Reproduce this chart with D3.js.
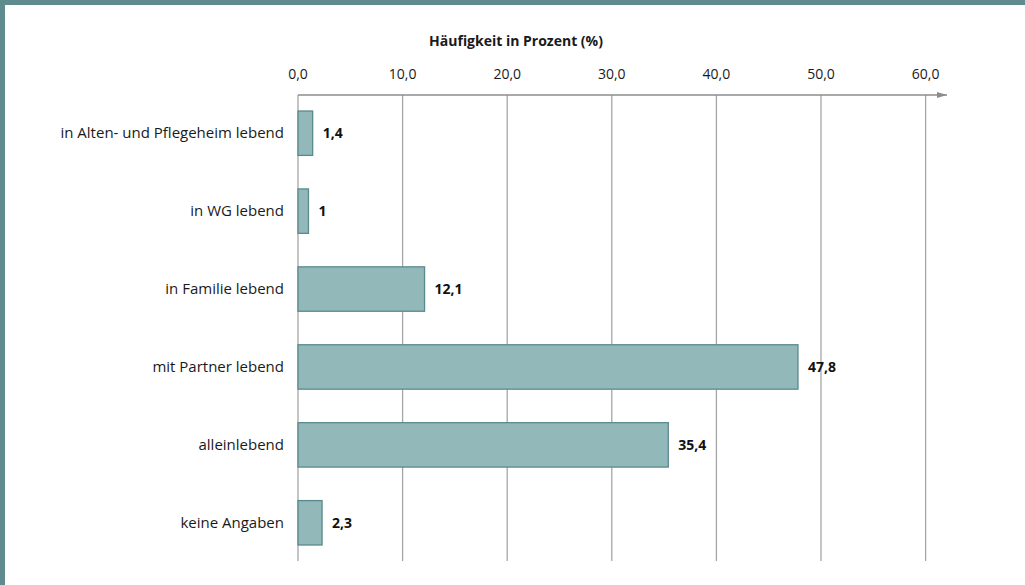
<!DOCTYPE html>
<html>
<head>
<meta charset="utf-8">
<script src="https://cdn.jsdelivr.net/npm/d3@7"></script>
<style>
  html, body { margin: 0; padding: 0; background: #fff; }
  svg { display: block; font-family: "Open Sans", sans-serif; }
</style>
</head>
<body>
<script>
// Categories and values (percent)
const categories = [
    "in Alten- und Pflegeheim lebend",
    "in WG lebend",
    "in Familie lebend",
    "mit Partner lebend",
    "alleinlebend",
    "keine Angaben"
];
const values = [1.4, 1, 12.1, 47.8, 35.4, 2.3];
const tickValues = [0, 10, 20, 30, 40, 50, 60];
const axisTitle = "Häufigkeit in Prozent (%)";

const width = 1025;
const height = 585;

const svg = d3.select('body')
    .append('svg')
        .attr('width', width)
        .attr('height', height);

// teal frame on top and left
svg.append('rect').attr('x', 0).attr('y', 0).attr('width', width).attr('height', 5).attr('fill', '#5f8b8f');
svg.append('rect').attr('x', 0).attr('y', 0).attr('width', 5).attr('height', height).attr('fill', '#5f8b8f');

// scales
const xScale = d3.scaleLinear()
    .domain([0, 60])
    .range([298, 925.6]);

const yScale = d3.scaleBand()
    .domain(categories)
    .range([111, 545])
    .paddingInner(0.43)
    .paddingOuter(0);

const axisY = 95;
const gridBottom = 561;

// vertical gridlines
svg.append('g')
    .selectAll('line')
    .data(tickValues)
    .enter()
        .append('line')
            .attr('x1', d => xScale(d))
            .attr('x2', d => xScale(d))
            .attr('y1', axisY)
            .attr('y2', gridBottom)
            .attr('stroke', '#a6a6a6')
            .attr('stroke-width', 1.3);

// top axis with arrow
svg.append('defs').append('marker')
    .attr('id', 'arrow')
    .attr('viewBox', '0 0 10 6')
    .attr('refX', 10).attr('refY', 3)
    .attr('markerWidth', 10).attr('markerHeight', 6)
    .attr('markerUnits', 'userSpaceOnUse')
    .attr('orient', 'auto')
    .append('path')
        .attr('d', 'M0,0 L10,3 L0,6 Z')
        .attr('fill', '#8c8c8c');

svg.append('line')
    .attr('x1', xScale(0))
    .attr('x2', 947)
    .attr('y1', axisY)
    .attr('y2', axisY)
    .attr('stroke', '#8c8c8c')
    .attr('stroke-width', 1.5)
    .attr('marker-end', 'url(#arrow)');

// tick labels
svg.append('g')
    .selectAll('text')
    .data(tickValues)
    .enter()
        .append('text')
            .attr('x', d => xScale(d))
            .attr('y', 79)
            .attr('text-anchor', 'middle')
            .style('font-size', '14px')
            .style('fill', '#1a1a1a')
            .text(d => d3.format('.1f')(d).replace('.', ','));

// axis title
svg.append('text')
    .attr('x', 516)
    .attr('y', 46)
    .attr('text-anchor', 'middle')
    .style('font-size', '14px')
    .style('font-weight', 'bold')
    .style('fill', '#1a1a1a')
    .text(axisTitle);

// bars
const data = categories.map((c, i) => ({ category: c, value: values[i] }));

svg.append('g')
    .selectAll('rect')
    .data(data)
    .enter()
        .append('rect')
            .attr('x', xScale(0))
            .attr('y', d => yScale(d.category))
            .attr('width', d => xScale(d.value) - xScale(0))
            .attr('height', yScale.bandwidth())
            .attr('fill', '#92b8b9')
            .attr('stroke', '#5b8a8d')
            .attr('stroke-width', 1.3);

// value labels
svg.append('g')
    .selectAll('text')
    .data(data)
    .enter()
        .append('text')
            .attr('x', d => xScale(d.value) + 10)
            .attr('y', d => yScale(d.category) + yScale.bandwidth() / 2)
            .attr('dy', '0.35em')
            .style('font-size', '14px')
            .style('font-weight', 'bold')
            .style('fill', '#111')
            .text(d => String(d.value).replace('.', ','));

// category labels
svg.append('g')
    .selectAll('text')
    .data(categories)
    .enter()
        .append('text')
            .attr('x', 284)
            .attr('y', d => yScale(d) + yScale.bandwidth() / 2)
            .attr('dy', '0.35em')
            .attr('text-anchor', 'end')
            .style('font-size', '15px')
            .style('fill', '#1a1a1a')
            .text(d => d);
</script>
</body>
</html>
